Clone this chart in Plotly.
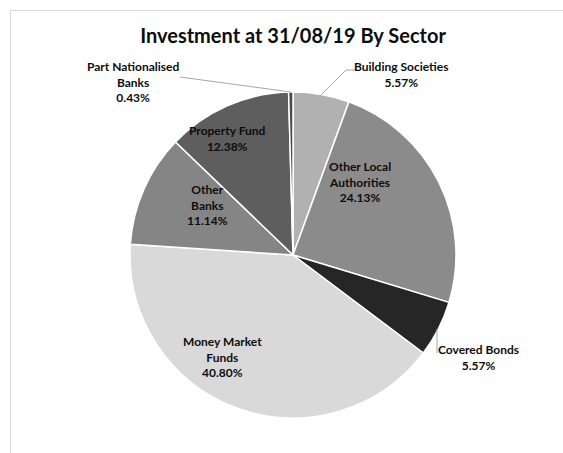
import math
import plotly.graph_objects as go

# Investment portfolio split by sector at 31/08/19 (percent of total)
sectors = [
    "Building Societies",
    "Other Local Authorities",
    "Covered Bonds",
    "Money Market Funds",
    "Other Banks",
    "Property Fund",
    "Part Nationalised Banks",
]
label_lines = [
    "Building Societies",
    "Other Local<br>Authorities",
    "Covered Bonds",
    "Money Market<br>Funds",
    "Other<br>Banks",
    "Property Fund",
    "Part Nationalised<br>Banks",
]
shares = [5.57, 24.13, 5.57, 40.80, 11.14, 12.38, 0.43]
colors = ["#b1b1b1", "#8b8b8b", "#262626", "#d9d9d9", "#858585", "#5e5e5e", "#4a4a4a"]

W, H = 563, 453
CX, CY, R = 293, 255, 163          # pie centre and radius in pixels


def px(x):
    return x / W


def py(y):
    return 1 - y / H


fig = go.Figure(
    go.Pie(
        labels=sectors,
        values=shares,
        sort=False,
        direction="clockwise",
        rotation=0,
        marker=dict(colors=colors, line=dict(color="white", width=1.5)),
        textinfo="none",
        hoverinfo="label+percent",
        showlegend=False,
        domain=dict(x=[px(CX - R), px(CX + R)], y=[py(CY + R), py(CY - R)]),
    )
)

# label block centres (pixels)
label_pos = {
    "Building Societies": (401, 75),
    "Other Local Authorities": (360, 182),
    "Covered Bonds": (478, 357),
    "Money Market Funds": (222, 357),
    "Other Banks": (207, 205),
    "Property Fund": (227, 138),
    "Part Nationalised Banks": (133, 82),
}

label_font = dict(family="Lato, Open Sans, sans-serif", size=12, color="#0d0d0d", weight="bold")
annotations = []
for name, text, v in zip(sectors, label_lines, shares):
    x, y = label_pos[name]
    annotations.append(
        dict(
            x=px(x), y=py(y), xref="paper", yref="paper",
            text=f"{text}<br>{v:.2f}%",
            showarrow=False, xanchor="center", yanchor="middle",
            align="center", font=label_font,
        )
    )


# edge point of each slice at its mid angle (clockwise from 12 o'clock)
total = sum(shares)
mid_edge = {}
cum = 0.0
for name, v in zip(sectors, shares):
    a = 2 * math.pi * (cum + v / 2) / total
    mid_edge[name] = (CX + R * math.sin(a), CY - R * math.cos(a))
    cum += v

leader_starts = {
    "Part Nationalised Banks": [(180, 77)],
    "Building Societies": [(355, 70), (346, 70)],
    "Covered Bonds": [(437, 353)],
}
shapes = []
for name, pts in leader_starts.items():
    ex, ey = mid_edge[name]
    if name == "Covered Bonds":
        ex = pts[0][0]
    pts = pts + [(ex, ey)]
    path = "M " + " L ".join(f"{px(x):.5f},{py(y):.5f}" for x, y in pts)
    shapes.append(dict(type="path", path=path, xref="paper", yref="paper",
                       line=dict(color="#a6a6a6", width=1)))

# chart area border
shapes.append(dict(type="rect", xref="paper", yref="paper",
                   x0=px(10.5), y0=py(470), x1=px(600), y1=py(10.5),
                   line=dict(color="#d9d9d9", width=1), fillcolor="rgba(0,0,0,0)",
                   layer="below"))

fig.update_layout(
    width=W, height=H,
    margin=dict(l=0, r=0, t=0, b=0),
    paper_bgcolor="white",
    plot_bgcolor="white",
    title=dict(
        text="Investment at 31/08/19 By Sector",
        x=px(293), xanchor="center",
        y=py(36), yanchor="middle", yref="container",
        font=dict(family="Lato, Open Sans, sans-serif", size=20, color="#0d0d0d", weight="bold"),
    ),
    annotations=annotations,
    shapes=shapes,
)

fig.write_html("out.html")
